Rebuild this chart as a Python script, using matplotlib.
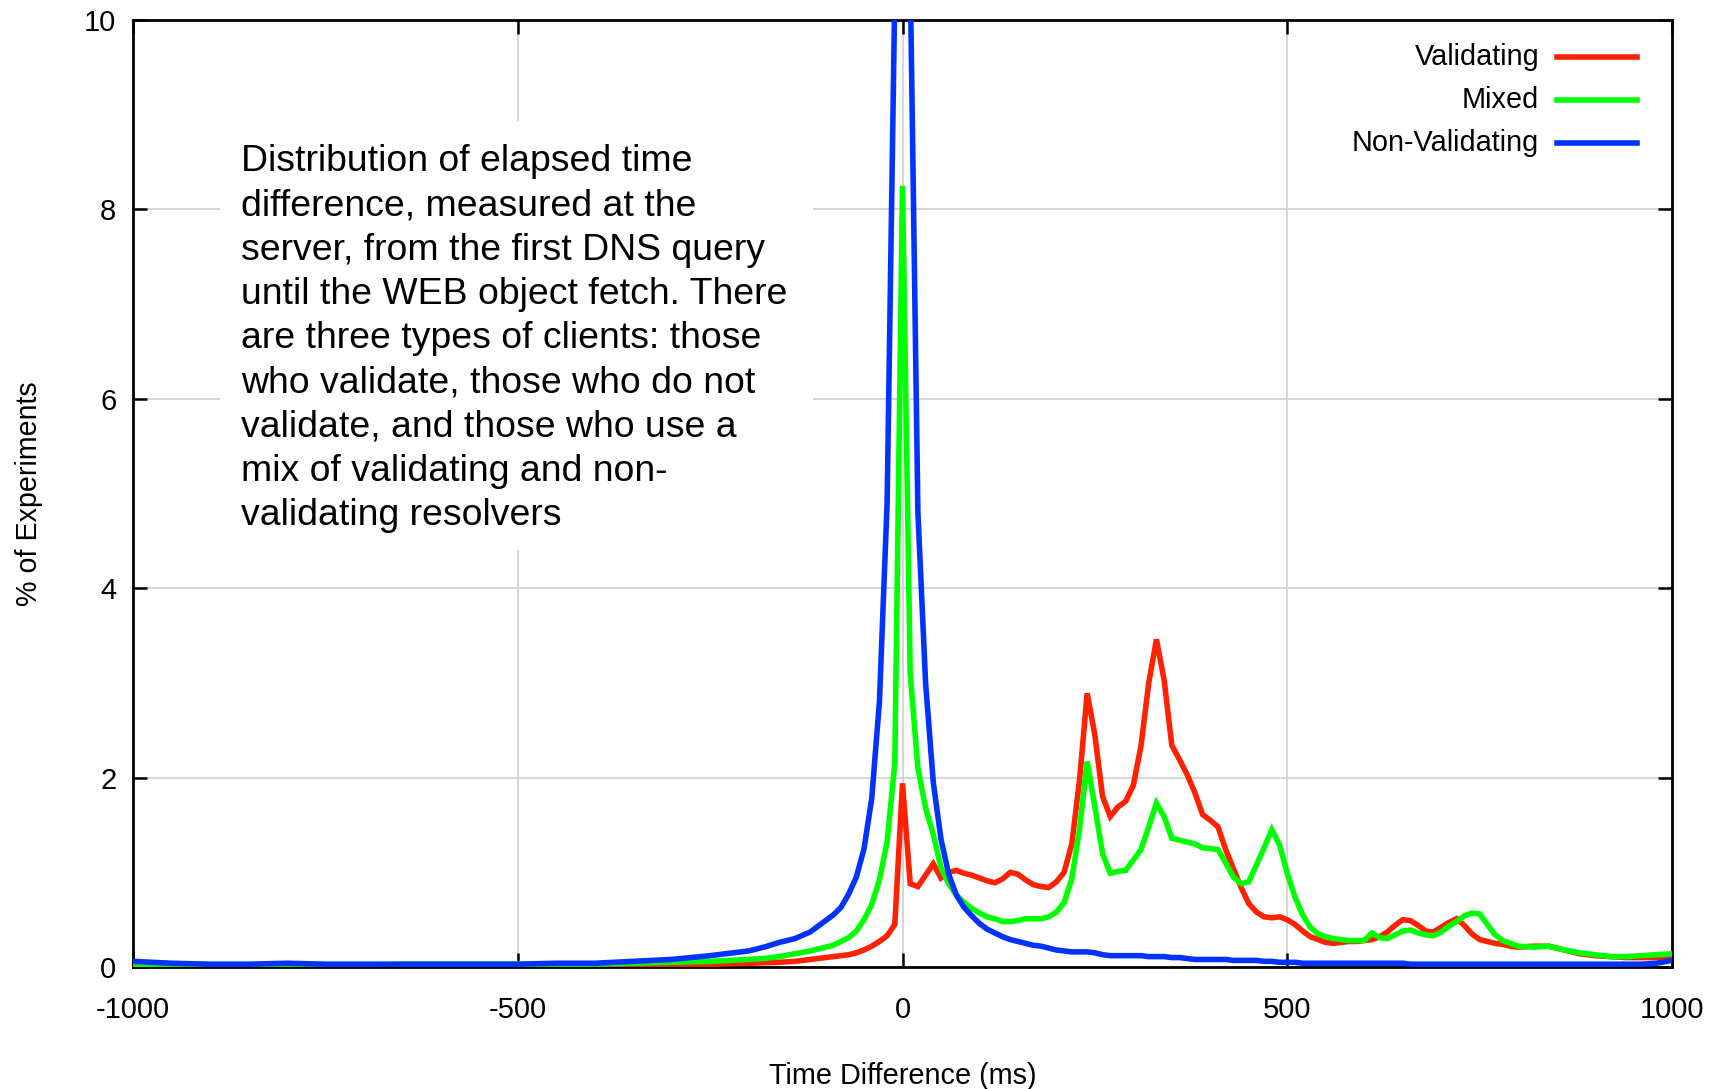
import matplotlib
matplotlib.use('Agg')
import matplotlib.pyplot as plt
from matplotlib.patches import Rectangle

plt.rcParams['font.family'] = ['Liberation Sans', 'DejaVu Sans']
plt.rcParams['axes.unicode_minus'] = False

# bin centres (ms): coarse on the flat left part, 10 ms around the peaks
time_ms = ([-1000, -950, -900, -850, -800, -750, -700, -650, -600, -550,
            -500, -450, -400, -350, -300, -250, -200, -180, -160, -140, -120]
           + list(range(-100, 810, 10))
           + [820, 840, 860, 880, 900, 920, 940, 960, 980, 1000])

validating = [
    0.01, 0.01, 0.01, 0.01, 0.01, 0.01, 0.01, 0.01, 0.01, 0.01,
    0.01, 0.01, 0.01, 0.02, 0.02, 0.03, 0.04, 0.045, 0.05, 0.06, 0.08,
    # -100 .. 800
    0.10, 0.11, 0.12, 0.13, 0.15, 0.18, 0.22, 0.27, 0.33, 0.45,
    1.94, 0.88, 0.85, 0.97, 1.09, 0.94, 1.00, 1.02, 0.99, 0.97,
    0.94, 0.91, 0.89, 0.93, 1.00, 0.98, 0.92, 0.87, 0.85, 0.84,
    0.90, 1.00, 1.30, 1.97, 2.89, 2.45, 1.80, 1.59, 1.69, 1.75,
    1.92, 2.34, 3.00, 3.46, 3.03, 2.34, 2.19, 2.03, 1.84, 1.61,
    1.55, 1.48, 1.24, 1.04, 0.84, 0.67, 0.58, 0.53, 0.52, 0.53,
    0.50, 0.45, 0.38, 0.32, 0.29, 0.26, 0.25, 0.26, 0.27, 0.27,
    0.28, 0.29, 0.32, 0.37, 0.44, 0.50, 0.49, 0.44, 0.38, 0.37,
    0.42, 0.47, 0.51, 0.44, 0.35, 0.29, 0.27, 0.25, 0.24, 0.22,
    0.21,
    0.22, 0.22, 0.18, 0.14, 0.12, 0.11, 0.10, 0.10, 0.10, 0.10]

mixed = [
    0.02, 0.02, 0.02, 0.02, 0.02, 0.02, 0.02, 0.03, 0.03, 0.03,
    0.03, 0.03, 0.03, 0.04, 0.05, 0.06, 0.08, 0.09, 0.11, 0.14, 0.17,
    0.21, 0.23, 0.27, 0.31, 0.38, 0.50, 0.66, 0.92, 1.32, 2.15,
    8.25, 3.10, 2.10, 1.68, 1.40, 1.05, 0.88, 0.76, 0.68, 0.62,
    0.57, 0.53, 0.51, 0.48, 0.48, 0.49, 0.51, 0.51, 0.51, 0.53,
    0.58, 0.68, 0.93, 1.45, 2.17, 1.69, 1.20, 0.99, 1.01, 1.02,
    1.13, 1.24, 1.48, 1.73, 1.59, 1.36, 1.34, 1.32, 1.30, 1.26,
    1.25, 1.24, 1.10, 0.95, 0.88, 0.90, 1.08, 1.26, 1.45, 1.29,
    0.99, 0.74, 0.55, 0.42, 0.35, 0.32, 0.30, 0.29, 0.28, 0.28,
    0.28, 0.36, 0.31, 0.30, 0.34, 0.38, 0.39, 0.36, 0.34, 0.33,
    0.37, 0.43, 0.48, 0.54, 0.57, 0.56, 0.45, 0.34, 0.28, 0.25,
    0.22,
    0.21, 0.22, 0.18, 0.15, 0.13, 0.11, 0.11, 0.12, 0.13, 0.14]

non_validating = [
    0.06, 0.04, 0.03, 0.03, 0.04, 0.03, 0.03, 0.03, 0.03, 0.03,
    0.03, 0.04, 0.04, 0.06, 0.08, 0.12, 0.17, 0.21, 0.26, 0.30, 0.37,
    0.49, 0.55, 0.63, 0.77, 0.95, 1.25, 1.78, 2.80, 4.90, 10.3,
    40.0, 10.5, 4.80, 3.00, 1.95, 1.35, 0.98, 0.76, 0.63, 0.54,
    0.46, 0.40, 0.36, 0.32, 0.29, 0.27, 0.25, 0.23, 0.22, 0.20,
    0.18, 0.17, 0.16, 0.16, 0.16, 0.15, 0.13, 0.12, 0.12, 0.12,
    0.12, 0.12, 0.11, 0.11, 0.11, 0.10, 0.10, 0.09, 0.08, 0.08,
    0.08, 0.08, 0.08, 0.07, 0.07, 0.07, 0.07, 0.06, 0.06, 0.05,
    0.05, 0.05, 0.04, 0.04, 0.04, 0.04, 0.04, 0.04, 0.04, 0.04,
    0.04, 0.04, 0.04, 0.04, 0.04, 0.04, 0.03, 0.03, 0.03, 0.03,
    0.03, 0.03, 0.03, 0.03, 0.03, 0.03, 0.03, 0.03, 0.03, 0.03,
    0.03,
    0.03, 0.03, 0.03, 0.03, 0.03, 0.03, 0.03, 0.03, 0.04, 0.07]

labels = ['Validating', 'Mixed', 'Non-Validating']
colors = ['#ff2200', '#00ff00', '#0033ff']
note = ("Distribution of elapsed time\n"
        "difference, measured at the\n"
        "server, from the first DNS query\n"
        "until the WEB object fetch. There\n"
        "are three types of clients: those\n"
        "who validate, those who do not\n"
        "validate, and those who use a\n"
        "mix of validating and non-\n"
        "validating resolvers")

fig = plt.figure(figsize=(17.23, 10.89), dpi=100)
ax = fig.add_axes([0.0772, 0.112, 0.8932, 0.8696])

series = [validating, mixed, non_validating]
for vals, col in zip(series, colors):
    ax.plot(time_ms, vals, color=col, lw=4.0, solid_joinstyle='miter', zorder=3)

ax.set_xlim(-1000, 1000)
ax.set_ylim(0, 10)
ax.set_xticks([-1000, -500, 0, 500, 1000])
ax.set_yticks([0, 2, 4, 6, 8, 10])
ax.set_axisbelow(True)
ax.grid(True, color='#d3d3d3', lw=1.3)
for s in ax.spines.values():
    s.set_linewidth(2.0)
ax.tick_params(direction='in', length=10, width=1.8, labelsize=21,
               top=True, right=True)
ax.tick_params(axis='x', pad=21)
ax.tick_params(axis='y', pad=12)

ax.set_xlabel('Time Difference (ms)', fontsize=20.8)
ax.set_ylabel('% of Experiments', fontsize=20.6)
ax.xaxis.set_label_coords(0.5, -0.1155)
ax.xaxis.label.set_va('center')
ax.yaxis.set_label_coords(-0.0679, 0.5)
ax.yaxis.label.set_va('center')

# white box under the note hides the grid
ax.add_patch(Rectangle((0.0565, 0.4403), 0.3853, 0.4531, transform=ax.transAxes,
                       facecolor='white', edgecolor='none', zorder=1))
ax.text(0.070, 0.6635, note, transform=ax.transAxes, fontsize=26.9,
        ha='left', va='center', linespacing=1.34, zorder=4)

# key in the top right corner, text before the sample line
key_y = [0.9605, 0.9151, 0.8697]
for lab, col, yy in zip(labels, colors, key_y):
    ax.text(0.9138, yy, lab, transform=ax.transAxes, fontsize=20.8,
            ha='right', va='center', zorder=5)
    ax.plot([0.9250, 0.9770], [yy, yy], transform=ax.transAxes,
            color=col, lw=4.0, zorder=5)

fig.savefig('out.png', dpi=100)
